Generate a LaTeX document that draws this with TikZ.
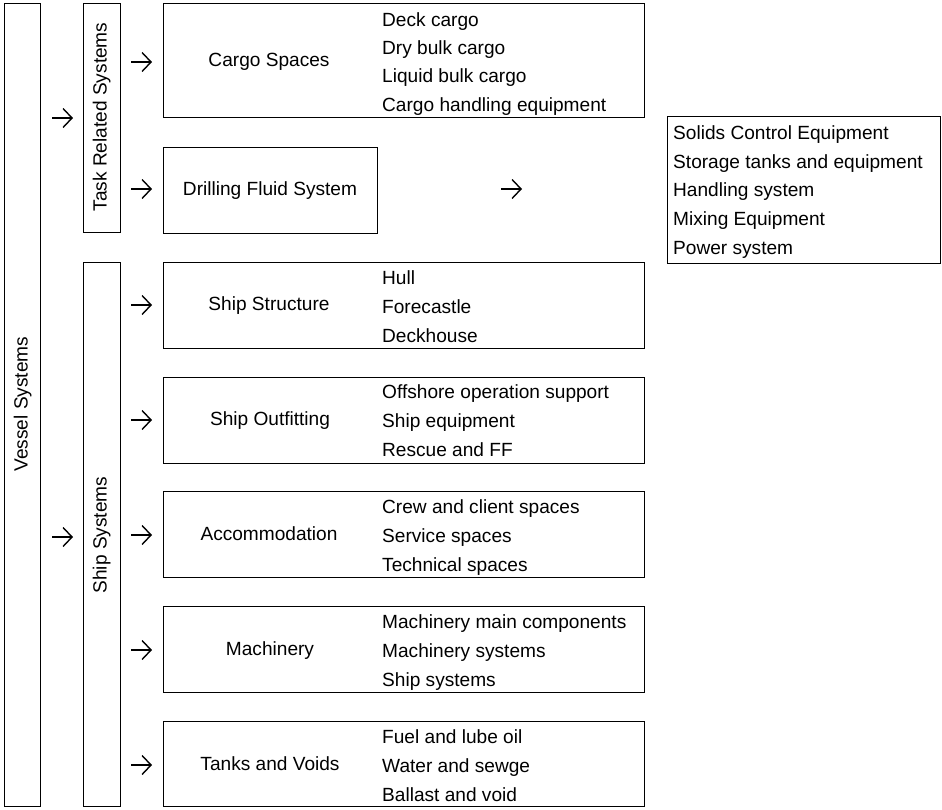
\documentclass[tikz,border=0pt]{standalone}
\usepackage{fontspec}
\setmainfont{Liberation Sans}
\usetikzlibrary{arrows.meta}
\begin{document}
\begin{tikzpicture}[x=1pt,y=-1pt,
  txt/.style={font=\fontsize{19.1}{22}\selectfont, inner sep=0pt, text height=14pt, text depth=4pt},
  frame/.style={draw=black, line width=1.3pt, inner sep=0pt, anchor=north west},
  item/.style={txt, anchor=west, yshift=-2.5pt},
  title/.style={txt, anchor=center, yshift=-1.5pt},
  vtitle/.style={txt, anchor=center, rotate=90},
  pointer/.style={line width=1.4pt, -{Straight Barb[length=9pt, width=19pt, line width=1.4pt]}}]
\useasboundingbox (0,0) rectangle (942,809);

% left-hand column boxes
\node[frame, minimum width=36pt, minimum height=803pt] (vessel) at (4,3) {};
\node[vtitle] (vesselT) at (22.5,404) {Vessel Systems};
\node[frame, minimum width=37pt, minimum height=229pt] (task) at (83,3) {};
\node[vtitle] (taskT) at (101.5,117) {Task Related Systems};
\node[frame, minimum width=37pt, minimum height=544pt] (ship) at (83,262) {};
\node[vtitle] (shipT) at (101.5,535) {Ship Systems};

% pointer arrows (start and end points)
\coordinate (pv1s) at (52,118);  \coordinate (pv1e) at (73,118);
\coordinate (pv2s) at (52,537);  \coordinate (pv2e) at (73,537);
\coordinate (p1s) at (131,62);   \coordinate (p1e) at (152,62);
\coordinate (p2s) at (131,189);  \coordinate (p2e) at (152,189);
\coordinate (p3s) at (501,189);  \coordinate (p3e) at (522,189);
\coordinate (p4s) at (131,305);  \coordinate (p4e) at (152,305);
\coordinate (p5s) at (131,420);  \coordinate (p5e) at (152,420);
\coordinate (p6s) at (131,535);  \coordinate (p6e) at (152,535);
\coordinate (p7s) at (131,650);  \coordinate (p7e) at (152,650);
\coordinate (p8s) at (131,765);  \coordinate (p8e) at (152,765);
\foreach \p in {pv1,pv2,p1,p2,p3,p4,p5,p6,p7,p8}
  \draw[pointer] (\p s) -- (\p e);

% task related systems
\node[frame, minimum width=481pt, minimum height=114pt] (cargo) at (163,3) {};
\node[title] at (269,60) {Cargo Spaces};
\node[item] at (382,19) {Deck cargo};
\node[item] at (382,47) {Dry bulk cargo};
\node[item] at (382,75) {Liquid bulk cargo};
\node[item] at (382,104) {Cargo handling equipment};

\node[frame, minimum width=214pt, minimum height=86pt] (fluid) at (163,147) {};
\node[title] at (270,189) {Drilling Fluid System};

\node[frame, minimum width=273pt, minimum height=147pt] (fluidlist) at (667,116) {};
\node[item] at (673,132) {Solids Control Equipment};
\node[item] at (673,161) {Storage tanks and equipment};
\node[item] at (673,189) {Handling system};
\node[item] at (673,218) {Mixing Equipment};
\node[item] at (673,247) {Power system};

% ship systems
\node[frame, minimum width=481pt, minimum height=86pt] (struct) at (163,262) {};
\node[title] at (269,304) {Ship Structure};
\node[item] at (382,277) {Hull};
\node[item] at (382,306) {Forecastle};
\node[item] at (382,335) {Deckhouse};

\node[frame, minimum width=481pt, minimum height=86pt] (outfit) at (163,377) {};
\node[title] at (270,419) {Ship Outfitting};
\node[item] at (382,391) {Offshore operation support};
\node[item] at (382,420) {Ship equipment};
\node[item] at (382,449) {Rescue and FF};

\node[frame, minimum width=481pt, minimum height=86pt] (accom) at (163,491) {};
\node[title] at (269,534) {Accommodation};
\node[item] at (382,506) {Crew and client spaces};
\node[item] at (382,535) {Service spaces};
\node[item] at (382,564) {Technical spaces};

\node[frame, minimum width=481pt, minimum height=86pt] (mach) at (163,606) {};
\node[title] at (270,649) {Machinery};
\node[item] at (382,621) {Machinery main components};
\node[item] at (382,650) {Machinery systems};
\node[item] at (382,679) {Ship systems};

\node[frame, minimum width=481pt, minimum height=85pt] (tanks) at (163,721) {};
\node[title] at (270,764) {Tanks and Voids};
\node[item] at (382,736) {Fuel and lube oil};
\node[item] at (382,765) {Water and sewge};
\node[item] at (382,794) {Ballast and void};
\end{tikzpicture}
\end{document}
